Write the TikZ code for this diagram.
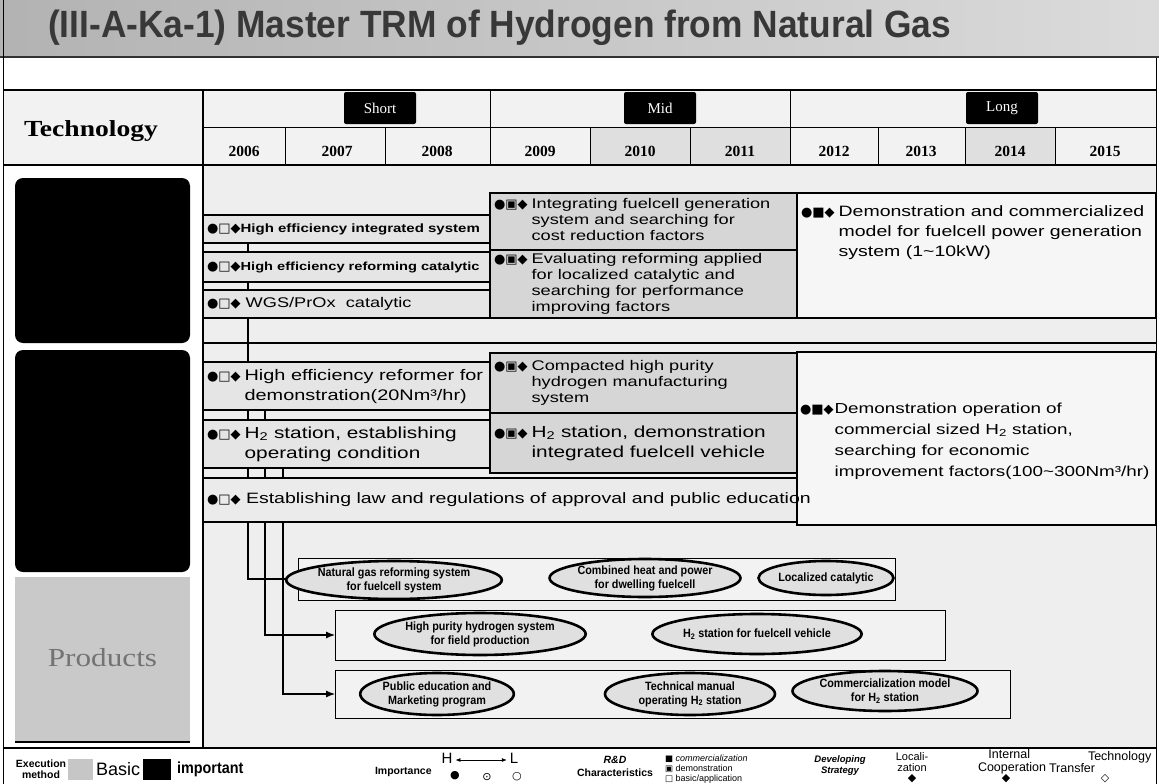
\documentclass[tikz,border=0pt]{standalone}
\usepackage{fontspec}
\setmainfont{Liberation Sans}
\newfontfamily\wsans[FakeStretch=1.3]{Liberation Sans}
\newfontfamily\bsans[FakeStretch=1.25]{Liberation Sans}
\newfontfamily\nsans[FakeStretch=0.9]{Liberation Sans}
\newfontfamily\tsans[FakeStretch=0.93]{Liberation Sans}
\newfontfamily\symf{DejaVu Sans}
\newfontfamily\serf{Liberation Serif}
\newfontfamily\serfw[FakeStretch=1.2]{Liberation Serif}
\usetikzlibrary{shapes.geometric,arrows.meta}
\pgfdeclarelayer{back}
\pgfdeclarelayer{lines}
\pgfsetlayers{back,lines,main}
\newcommand\mrk[1]{{\symf\fontsize{13}{13}\selectfont #1}}
\newcommand\lmrk[1]{{\symf\fontsize{8.5}{8.5}\selectfont #1}}
\newcommand\tb[2]{\begin{tabular}{@{}l@{\hspace{4pt}}l@{}}#1&#2\end{tabular}}
\newcommand\tbn[2]{\begin{tabular}{@{}l@{\hspace{1pt}}l@{}}#1&#2\end{tabular}}
\newcommand\Hz{H\textsubscript{2}}
\begin{document}
\begin{tikzpicture}[x=1pt,y=-1pt,
  every node/.style={inner sep=0pt, outer sep=0pt},
  sbox/.style={draw=black, line width=1.8pt, fill=gray!20, anchor=north west, rectangle},
  mbox/.style={sbox, fill=gray!32},
  lbox/.style={sbox, fill=gray!7},
  pbox/.style={draw=black, line width=0.9pt, fill=gray!10, anchor=north west, rectangle},
  prod/.style={ellipse, draw=black, line width=2.6pt, fill=gray!24, align=center,
     font=\nsans\bfseries\fontsize{12}{14}\selectfont},
  catbox/.style={fill=black, rounded corners=8pt, anchor=north west, rectangle},
  txtA/.style={anchor=west, font=\wsans\fontsize{14}{16}\selectfont},
  txtB/.style={anchor=west, font=\wsans\fontsize{16}{20}\selectfont},
  txtS/.style={anchor=west, font=\bsans\bfseries\fontsize{12}{14}\selectfont},
  conn/.style={draw=black, line width=1.1pt, -{Latex[length=9pt,width=7pt]}},
  gridl/.style={draw=black, line width=1pt},
  thick2/.style={draw=black, line width=2pt},
  yrs/.style={font=\serf\bfseries\fontsize{15.5}{15.5}\selectfont},
  term/.style={fill=black, rounded corners=2pt, text=white, minimum width=72pt, minimum height=32pt,
     font=\serf\fontsize{15}{15}\selectfont},
  leg/.style={font=\bfseries\fontsize{10.5}{11}\selectfont, align=center},
  legsym/.style={font=\symf\fontsize{11}{11}\selectfont}
]
\useasboundingbox (0,0) rectangle (1159,784);
% ---------- backgrounds
\begin{pgfonlayer}{back}
\fill[white] (0,0) rectangle (1159,784);
\fill[left color=gray!60, right color=gray!28] (0,0) rectangle (1159,57);
\fill[gray!10] (3,90) rectangle (1156,165);
\fill[gray!25] (590,127) rectangle (790,165);
\fill[gray!25] (965,127) rectangle (1055,165);
\fill[gray!13] (203,165) rectangle (1156,748);
\end{pgfonlayer}
% ---------- title
\draw[line width=2.5pt, black!80] (0,57) -- (1159,57);
\node[font=\tsans\bfseries\fontsize{38}{40}\selectfont, text=black!78, anchor=west] (title) at (48,28)
  {(III-A-Ka-1) Master TRM of Hydrogen from Natural Gas};
% ---------- frame and table
\draw[line width=1pt] (3,0) -- (3,784);
\draw[line width=1pt] (1156,58) -- (1156,784);
\draw[thick2] (3,90) -- (1156,90);
\draw[gridl] (203,127) -- (1156,127);
\draw[thick2] (3,165) -- (1156,165);
\draw[thick2] (203,90) -- (203,748);
\draw[thick2] (3,748) -- (1156,748);
\foreach \xd in {490,790} \draw[gridl] (\xd,90) -- (\xd,165);
\foreach \xd in {285,385,590,690,878,965,1055} \draw[gridl] (\xd,127) -- (\xd,165);
\node[font=\serfw\bfseries\fontsize{23}{23}\selectfont] (tech) at (91,131) {Technology};
\node[term] (short) at (380,108) {Short};
\node[term] (mid) at (660,108) {Mid};
\node[term] (long) at (1002,108) {Long};
\foreach \yr/\xc in {2006/244,2007/337,2008/437,2009/540,2010/640,2011/740,2012/834,2013/921,2014/1010,2015/1105}
  \node[yrs] (y\yr) at (\xc,151) {\yr};
% ---------- category column
\node[catbox, minimum width=175pt, minimum height=165pt] (c1) at (15,178) {};
\node[catbox, minimum width=175pt, minimum height=222pt] (c2) at (15,350) {};
\node[fill=gray!42, anchor=north west, minimum width=175pt, minimum height=165pt] (c3) at (15,577) {};
\draw[line width=2.5pt] (c3.south west) -- (c3.south east);
\node[font=\serfw\fontsize{26}{26}\selectfont, text=black!55] (prodlbl) at ([yshift=2pt]c3.center) {Products};
% ---------- section 1
\draw[thick2] (203,343) -- (1156,343);
\node[sbox, minimum width=287pt, minimum height=28pt] (s1) at (203,215) {};
\node[sbox, minimum width=287pt, minimum height=30pt] (s2) at (203,252) {};
\node[sbox, minimum width=287pt, minimum height=28pt] (s3) at (203,290) {};
\node[mbox, minimum width=307pt, minimum height=57pt] (m1) at (490,193) {};
\node[mbox, minimum width=307pt, minimum height=68pt] (m2) at (490,250) {};
\node[lbox, minimum width=359pt, minimum height=125pt] (l1) at (797,193) {};
\node[txtS] (t1) at ([xshift=4pt]s1.west) {\mrk{●□◆}High efficiency integrated system};
\node[txtS, font=\bsans\bfseries\fontsize{11.7}{14}\selectfont] (t2) at ([xshift=4pt]s2.west) {\mrk{●□◆}High efficiency reforming catalytic};
\node[txtA] (t3) at ([xshift=4pt]s3.west) {\mrk{●□◆} WGS/PrOx\ \ catalytic};
\node[txtA] (t4) at ([xshift=4pt]m1.west) {\tb{\mrk{●▣◆}}{Integrating fuelcell generation\\&system and searching for\\&cost reduction factors}};
\node[txtA] (t5) at ([xshift=4pt]m2.west) {\tb{\mrk{●▣◆}}{Evaluating reforming applied\\&for localized catalytic and\\&searching for performance\\&improving factors}};
\node[txtB, font=\wsans\fontsize{15}{20}\selectfont] (t6) at ([xshift=4pt,yshift=23pt]l1.west) {\tb{\mrk{●■◆}}{Demonstration and commercialized\\&model for fuelcell power generation\\&system (1\textasciitilde10kW)}};
% ---------- section 2
\node[sbox, minimum width=287pt, minimum height=48pt] (s4) at (203,362) {};
\node[sbox, minimum width=287pt, minimum height=48pt] (s5) at (203,420) {};
\node[mbox, minimum width=307pt, minimum height=60pt] (m3) at (490,353) {};
\node[mbox, minimum width=307pt, minimum height=60pt] (m4) at (490,413) {};
\node[sbox, fill=gray!16, minimum width=594pt, minimum height=44pt] (s6) at (203,478) {};
\node[lbox, minimum width=359pt, minimum height=173pt] (l2) at (797,352) {};
\node[txtB, font=\wsans\fontsize{15.3}{20}\selectfont] (t7) at ([xshift=4pt]s4.west) {\tb{\mrk{●□◆}}{High efficiency reformer for\\&demonstration(20Nm³/hr)}};
\node[txtB] (t8) at ([xshift=4pt]s5.west) {\tb{\mrk{●□◆}}{\Hz{} station, establishing\\&operating condition}};
\node[txtA] (t9) at ([xshift=4pt]m3.west) {\tb{\mrk{●▣◆}}{Compacted high purity\\&hydrogen manufacturing\\&system}};
\node[txtB] (t10) at ([xshift=4pt]m4.west) {\tb{\mrk{●▣◆}}{\Hz{} station, demonstration\\&integrated fuelcell vehicle}};
\node[txtB, font=\wsans\fontsize{15}{18}\selectfont] (t11) at ([xshift=4pt]s6.west) {\mrk{●□◆} Establishing law and regulations of approval and public education};
\node[txtB, font=\wsans\fontsize{14.5}{21}\selectfont] (t12) at ([xshift=3pt,yshift=-2pt]l2.west) {\tbn{\mrk{●■◆}}{Demonstration operation of\\&commercial sized \Hz{} station,\\&searching for economic\\&improvement factors(100\textasciitilde300Nm³/hr)}};
% ---------- products
\node[pbox, minimum width=597pt, minimum height=42pt] (p1) at (298,558) {};
\node[pbox, minimum width=610pt, minimum height=50pt] (p2) at (335,610) {};
\node[pbox, minimum width=675pt, minimum height=48pt] (p3) at (335,670) {};
\node[prod, minimum width=165pt, minimum height=38pt] (e1) at (394,580) {Natural gas reforming system\\for fuelcell system};
\node[prod, minimum width=185pt, minimum height=38pt] (e2) at (645,578) {Combined heat and power\\for dwelling fuelcell};
\node[prod, minimum width=130pt, minimum height=34pt] (e3) at (826,578) {Localized catalytic};
\node[prod, minimum width=178pt, minimum height=42pt] (e4) at (480,634) {High purity hydrogen system\\for field production};
\node[prod, minimum width=195pt, minimum height=40pt] (e5) at (757,634) {\Hz{} station for fuelcell vehicle};
\node[prod, minimum width=152pt, minimum height=42pt] (e6) at (437,694) {Public education and\\Marketing program};
\node[prod, minimum width=170pt, minimum height=42pt] (e7) at (690,694) {Technical manual\\operating \Hz{} station};
\node[prod, minimum width=150pt, minimum height=40pt] (e8) at (885,691) {Commercialization model\\for \Hz{} station};
% ---------- connectors
\begin{pgfonlayer}{lines}
\draw[conn] ([xshift=45pt]s1.south west) |- (p1.west);
\draw[conn] ([xshift=62pt]s4.south west) |- (p2.west);
\draw[conn] ([xshift=80pt]s5.south west) |- (p3.west);
\end{pgfonlayer}
% ---------- legend
\node[leg] (exm) at (41,769) {Execution\\method};
\node[fill=gray!45, anchor=north west, minimum width=25pt, minimum height=21pt] (basicsw) at (68,759) {};
\node[anchor=west, font=\fontsize{18}{18}\selectfont] (basic) at ([xshift=3pt]basicsw.east) {Basic};
\node[fill=black, anchor=north west, minimum width=28pt, minimum height=21pt] (impsw) at (143,759) {};
\node[anchor=west, font=\nsans\bfseries\fontsize{16}{16}\selectfont] (imp) at ([xshift=6pt]impsw.east) {important};
\node[leg, anchor=west] (impt) at (375,772) {Importance};
\node[font=\fontsize{15}{15}\selectfont] (hL) at (447,758) {H};
\node[font=\fontsize{15}{15}\selectfont] (lL) at (514,758) {L};
\draw[line width=0.8pt, {Latex[length=5pt,width=4pt]}-{Latex[length=5pt,width=4pt]}] ([xshift=3pt,yshift=-2pt]hL.east) -- ([xshift=-3pt,yshift=-2pt]lL.west);
\node[legsym] (i1) at (455,776) {●};
\node[legsym] (i2) at (487,777) {⊙};
\node[legsym] (i3) at (517,777) {○};
\node[leg] (rd) at (615,766) {\textit{R\&D}\\[2pt]Characteristics};
\node[anchor=west, font=\fontsize{9}{10}\selectfont] (rd1) at (665,759) {\lmrk{■} \textit{commercialization}};
\node[anchor=west, font=\fontsize{9}{10}\selectfont] (rd2) at (665,769) {\lmrk{▣} demonstration};
\node[anchor=west, font=\fontsize{9}{10}\selectfont] (rd3) at (665,779) {\lmrk{□} basic/application};
\node[leg, font=\bfseries\itshape\fontsize{9.5}{11}\selectfont] (dev) at (840,766) {Developing\\Strategy};
\node[font=\fontsize{11}{11}\selectfont, align=center] (loc) at (912,762) {Locali-\\zation};
\node[font=\fontsize{12.5}{12.5}\selectfont, align=left, anchor=west] (intc) at (978,762) {\ \ \ Internal\\Cooperation};
\node[font=\fontsize{12.5}{12.5}\selectfont, align=left, anchor=west] (ttr) at (1049,762) {\hspace{39pt}Technology\\Transfer};
\node[legsym] (d1) at (912,779) {◆};
\node[legsym] (d2) at (1006,779) {◆};
\node[legsym] (d3) at (1105,779) {◇};
\end{tikzpicture}
\end{document}
